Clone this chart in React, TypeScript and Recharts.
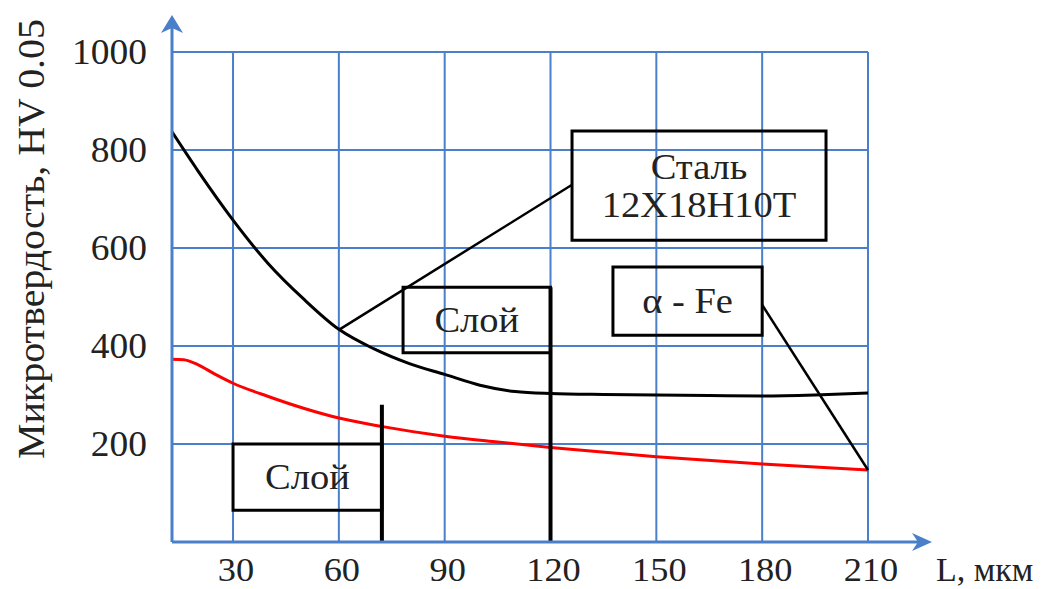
import React from "react";
import {
  ComposedChart,
  Line,
  XAxis,
  YAxis,
  CartesianGrid,
  ReferenceArea,
  ReferenceLine,
  ReferenceDot,
} from "recharts";

const X_MIN = 12.7;
const X_MAX = 210;
const xTicks = [30, 60, 90, 120, 150, 180, 210];
const yTicks = [200, 400, 600, 800, 1000];

const steelX = [12.7, 20, 30, 40, 50, 60, 70, 80, 90, 100, 110, 120, 135, 150, 165, 180, 195, 210];
const steelY = [837, 758, 657, 568, 496, 434, 394, 364, 342, 320, 307, 303, 301, 300, 299, 298, 300, 304];

const layerX = [12.7, 16, 20, 25, 30, 40, 50, 60, 72, 90, 105, 120, 150, 180, 210];
const layerY = [373, 372, 362, 342, 324, 297, 273, 253, 236, 216, 204, 193, 174, 159, 147];

const steelData = steelX.map((x, i) => ({ x, y: steelY[i] }));
const layerData = layerX.map((x, i) => ({ x, y: layerY[i] }));

const FONT = "'Liberation Serif', 'Times New Roman', serif";
const BLUE = "#4a7fc9";
const TXT = "#222";
const SX = 1.07;

const BoxLabel = (props: any) => {
  const { viewBox, lines } = props;
  if (!viewBox) return null;
  const cx = viewBox.x + viewBox.width / 2;
  const cy = viewBox.y + viewBox.height / 2;
  const n = lines.length;
  const lh = 38;
  return (
    <g>
      {lines.map((t: string, i: number) => (
        <text
          key={i}
          transform={`translate(${cx},${cy + (i - (n - 1) / 2) * lh}) scale(${SX},1)`}
          textAnchor="middle"
          dominantBaseline="central"
          fontFamily={FONT}
          fontSize={36}
          fill={TXT}
        >
          {t}
        </text>
      ))}
    </g>
  );
};

const YTick = (props: any) => {
  const { x, y, payload } = props;
  return (
    <text transform={`translate(${x - 25},${y}) scale(${SX},1)`} textAnchor="end" dominantBaseline="central" fontFamily={FONT} fontSize={35} fill={TXT}>
      {payload.value}
    </text>
  );
};

const XTick = (props: any) => {
  const { x, y, payload } = props;
  return (
    <text transform={`translate(${x + 3},${y + 39}) scale(${SX},1)`} textAnchor="middle" fontFamily={FONT} fontSize={34} fill={TXT}>
      {payload.value}
    </text>
  );
};

const UpArrow = (props: any) => {
  const { cx, cy } = props;
  const tip = cy - 37;
  return (
    <g>
      <line x1={cx} y1={cy} x2={cx} y2={tip + 10} stroke={BLUE} strokeWidth={3} />
      <path d={`M${cx},${tip} L${cx - 11},${tip + 18} L${cx},${tip + 13} L${cx + 11},${tip + 18} Z`} fill={BLUE} />
    </g>
  );
};

const RightArrow = (props: any) => {
  const { cx, cy } = props;
  const tip = cx + 64;
  return (
    <g>
      <line x1={cx} y1={cy} x2={tip - 10} y2={cy} stroke={BLUE} strokeWidth={3} />
      <path d={`M${tip},${cy} L${tip - 20},${cy - 9} L${tip - 14},${cy} L${tip - 20},${cy + 9} Z`} fill={BLUE} />
    </g>
  );
};

export default function App() {
  return (
    <div style={{ position: "absolute", left: 0, top: 0, background: "#fff" }}>
      <ComposedChart width={1044} height={589} margin={{ top: 52, right: 176, bottom: 7, left: 92 }}>
        <CartesianGrid stroke={BLUE} strokeWidth={2} />
        <XAxis
          type="number"
          dataKey="x"
          domain={[X_MIN, X_MAX]}
          ticks={xTicks}
          allowDataOverflow
          height={40}
          tickLine={false}
          tickSize={0}
          tickMargin={0}
          axisLine={{ stroke: BLUE, strokeWidth: 3 }}
          tick={<XTick />}
          interval={0}
          label={{
            content: () => (
              <text transform={`translate(936,581) scale(1.0,1)`} textAnchor="start" fontFamily={FONT} fontSize={34} fill={TXT}>
                L, мкм
              </text>
            ),
          } as any}
        />
        <YAxis
          type="number"
          domain={[0, 1000]}
          ticks={yTicks}
          allowDataOverflow
          width={80}
          tickLine={false}
          tickSize={0}
          tickMargin={0}
          axisLine={{ stroke: BLUE, strokeWidth: 3 }}
          tick={<YTick />}
          interval={0}
          label={{
            content: () => (
              <text
                transform="translate(31,239) rotate(-90) scale(1.05,1)"
                textAnchor="middle"
                dominantBaseline="central"
                fontFamily={FONT}
                fontSize={38}
                fill={TXT}
              >
                Микротвердость, HV 0.05
              </text>
            ),
          } as any}
        />

        <ReferenceDot x={X_MIN} y={1000} ifOverflow="visible" shape={<UpArrow />} />
        <ReferenceDot x={X_MAX} y={0} ifOverflow="visible" shape={<RightArrow />} />

        <Line data={steelData} dataKey="y" type="monotone" stroke="#000" strokeWidth={3} dot={false} isAnimationActive={false} />
        <Line data={layerData} dataKey="y" type="monotone" stroke="#ff0000" strokeWidth={3} dot={false} isAnimationActive={false} />

        <ReferenceLine segment={[{ x: 60, y: 433 }, { x: 126.1, y: 729 }]} stroke="#000" strokeWidth={2.5} ifOverflow="visible" />
        <ReferenceLine segment={[{ x: 180, y: 484 }, { x: 210, y: 147 }]} stroke="#000" strokeWidth={2.5} ifOverflow="visible" />

        <ReferenceLine segment={[{ x: 120, y: 0 }, { x: 120, y: 520 }]} stroke="#000" strokeWidth={4} ifOverflow="visible" />
        <ReferenceLine segment={[{ x: 72.2, y: 0 }, { x: 72.2, y: 280 }]} stroke="#000" strokeWidth={4} ifOverflow="visible" />

        <ReferenceArea x1={126.1} x2={198.1} y1={616} y2={839} fill="none" fillOpacity={0} stroke="#000" strokeWidth={3} ifOverflow="visible"
          label={<BoxLabel lines={["Сталь", "12Х18Н10Т"]} />} />
        <ReferenceArea x1={137.7} x2={180} y1={422} y2={561} fill="none" fillOpacity={0} stroke="#000" strokeWidth={3} ifOverflow="visible"
          label={<BoxLabel lines={["α - Fe"]} />} />
        <ReferenceArea x1={78.2} x2={120} y1={386} y2={520} fill="none" fillOpacity={0} stroke="#000" strokeWidth={3} ifOverflow="visible"
          label={<BoxLabel lines={["Слой"]} />} />
        <ReferenceArea x1={30} x2={72.2} y1={65} y2={200} fill="none" fillOpacity={0} stroke="#000" strokeWidth={3} ifOverflow="visible"
          label={<BoxLabel lines={["Слой"]} />} />
      </ComposedChart>
    </div>
  );
}
